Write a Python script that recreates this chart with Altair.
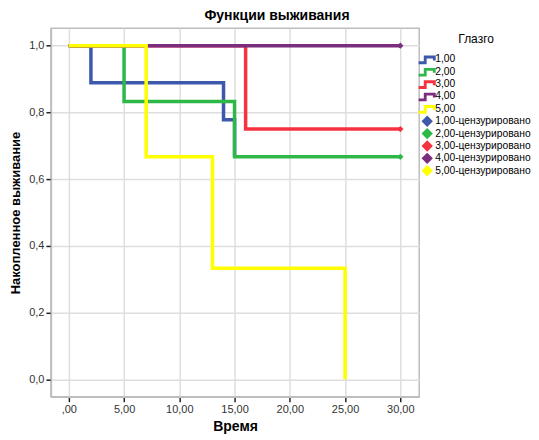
import altair as alt
import pandas as pd

groups = ["1,00", "2,00", "3,00", "4,00", "5,00"]
colors = ["#3E58AC", "#2EB848", "#F5333F", "#7B2D80", "#FFFF00"]

# step curves (time, survival) per group
times = [
    [0, 2, 14, 15],
    [0, 5, 15, 30],
    [0, 16, 30],
    [0, 30],
    [0, 7, 13, 25],
]
surv = [
    [1.0, 0.889, 0.778, 0.667],
    [1.0, 0.833, 0.667, 0.667],
    [1.0, 0.75, 0.75],
    [1.0, 1.0],
    [1.0, 0.667, 0.333, 0.0],
]

# censored observations
cens_group = ["2,00", "3,00", "4,00"]
cens_time = [30, 30, 30]
cens_surv = [0.667, 0.75, 1.0]

suffix = "-цензурировано"
cens_labels = [g + suffix for g in groups]
domain = groups + cens_labels
range_colors = colors + colors

step_path = ("M-1.5,0.35 L-0.6,0.35 L-0.6,-0.65 L1.5,-0.65 L1.5,0.2 L1.0,0.2 "
             "L1.0,-0.15 L-0.1,-0.15 L-0.1,0.85 L-1.5,0.85 Z")
shapes = [step_path] * 5 + ["diamond"] * 5

rows = []
for g, ts, ss in zip(groups, times, surv):
    for i, (t, s) in enumerate(zip(ts, ss)):
        rows.append({"label": g, "t": t, "s": s, "order": i})
lines_df = pd.DataFrame(rows)

cens_df = pd.DataFrame({
    "label": [g + suffix for g in cens_group],
    "t": cens_time,
    "s": cens_surv,
})

color_scale = alt.Scale(domain=domain, range=range_colors)
shape_scale = alt.Scale(domain=domain, range=shapes)
leg = alt.Legend(title="Глазго", symbolOpacity=1, orient="none", legendX=371, legendY=6)

x_enc = alt.X("t:Q", title="Время",
              scale=alt.Scale(domain=[-1.62, 31.71], nice=False, zero=False),
              axis=alt.Axis(values=[0, 5, 10, 15, 20, 25, 30],
                            labelExpr="datum.value == 0 ? ',00' : replace(format(datum.value, '.2f'), '.', ',')"))
y_enc = alt.Y("s:Q", title="Накопленное выживание",
              scale=alt.Scale(domain=[-0.052, 1.052], nice=False, zero=False),
              axis=alt.Axis(values=[0, 0.2, 0.4, 0.6, 0.8, 1.0],
                            labelExpr="replace(format(datum.value, '.1f'), '.', ',')"))

lines = alt.Chart(lines_df).mark_line(interpolate="step-after", strokeWidth=3.5).encode(
    x=x_enc,
    y=y_enc,
    color=alt.Color("label:N", scale=color_scale, legend=leg),
    detail="label:N",
    order="order:Q",
)

# legend carrier: all domain entries
legend_df = pd.DataFrame({"label": domain, "t": [30] * 10, "s": [1.0] * 10})
legend_pts = alt.Chart(legend_df).mark_point(filled=True, opacity=0, size=1).encode(
    x=alt.X("t:Q"),
    y=alt.Y("s:Q"),
    color=alt.Color("label:N", scale=color_scale, legend=leg),
    shape=alt.Shape("label:N", scale=shape_scale, legend=leg),
)

points = alt.Chart(cens_df).mark_point(filled=True, size=40, opacity=1, shape="diamond").encode(
    x=alt.X("t:Q"),
    y=alt.Y("s:Q"),
    color=alt.Color("label:N", scale=color_scale, legend=leg),
)

chart = alt.layer(lines, legend_pts, points).properties(
    width=369,
    height=369,
    padding={"left": 1, "top": 1, "right": 0, "bottom": 0},
    title=alt.TitleParams("Функции выживания", fontSize=14, fontWeight="bold",
                          font="Liberation Sans", color="#000", offset=5,
                          anchor="middle", dx=42),
).configure_view(
    stroke="#bdbdbd", strokeWidth=1.5
).configure_axis(
    labelFont="Liberation Sans", titleFont="Liberation Sans",
    labelFontSize=11, labelColor="#333", titleFontSize=14, titleFontWeight="bold",
    titleColor="#000", grid=True, gridColor="#dedede", gridWidth=1.5,
    domainColor="#bdbdbd", domainWidth=1.5, tickColor="#222", tickSize=5, tickWidth=1.5,
    labelPadding=2,
).configure_axisX(
    titlePadding=5, domain=True
).configure_axisY(
    titlePadding=6, titleFontSize=13
).configure_legend(
    titleFont="Liberation Sans", titleFontSize=12, titleFontWeight="normal", titleColor="#000",
    labelFont="Liberation Sans", labelFontSize=10.3, labelColor="#000", labelLimit=200,
    symbolSize=130, symbolStrokeWidth=0, rowPadding=0.4, padding=0,
    titleAnchor="middle", titlePadding=7, labelOffset=2,
)

chart.save("out.html", embed_options={"renderer": "svg", "actions": False})
